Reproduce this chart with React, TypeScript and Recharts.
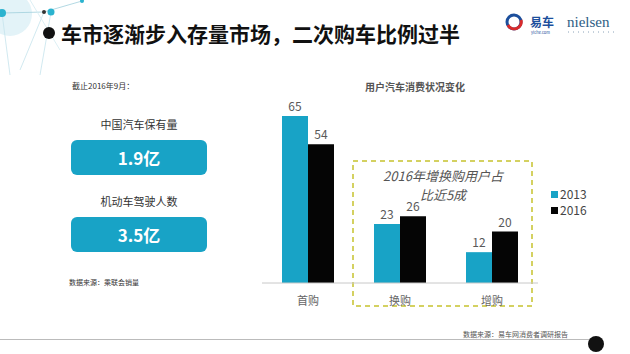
import { BarChart, Bar, XAxis, YAxis, LabelList } from "recharts";

const categories = ["首购", "换购", "增购"];
const values2013 = [65, 23, 12];
const values2016 = [54, 26, 20];
const seriesNames = ["2013", "2016"];

const chartData = categories.map((name, i) => ({
  name,
  [seriesNames[0]]: values2013[i],
  [seriesNames[1]]: values2016[i],
}));

const TEAL = "#18a3c6";
const BLACK = "#050505";
const FONT = "'Noto Sans CJK SC', 'Noto Sans', sans-serif";

function StatBox({ top, label, value }: { top: number; label: string; value: string }) {
  return (
    <>
      <div
        style={{
          position: "absolute",
          left: 71,
          width: 136,
          top: top - 24,
          textAlign: "center",
          fontSize: 11,
          color: "#333",
        }}
      >
        {label}
      </div>
      <div
        style={{
          position: "absolute",
          left: 71,
          top,
          width: 136,
          height: 35,
          borderRadius: 6,
          background: TEAL,
          color: "#fff",
          fontWeight: 700,
          fontSize: 17,
          display: "flex",
          alignItems: "center",
          justifyContent: "center",
        }}
      >
        {value}
      </div>
    </>
  );
}

function NoteLine({ top, text }: { top: number; text: string }) {
  return (
    <div
      style={{
        position: "absolute",
        left: 363,
        width: 160,
        top,
        textAlign: "center",
        fontSize: 13,
        lineHeight: "14px",
        fontStyle: "italic",
        color: "#555",
      }}
    >
      {text}
    </div>
  );
}

export default function App() {
  const legendColors = [TEAL, BLACK];
  return (
    <div
      style={{
        position: "absolute",
        left: 0,
        top: 0,
        width: 630,
        height: 354,
        background: "#fff",
        fontFamily: FONT,
        overflow: "hidden",
      }}
    >
      {/* top-left network decoration */}
      <svg width={120} height={80} style={{ position: "absolute", left: 0, top: 0 }}>
        <circle cx={10} cy={14} r={22} fill="#e3f3f8" />
        <line x1={2} y1={13} x2={44} y2={12} stroke="#9fcfdc" strokeWidth={0.8} />
        <line x1={44} y1={12} x2={82} y2={1} stroke="#9fcfdc" strokeWidth={0.8} />
        <line x1={44} y1={12} x2={20} y2={70} stroke="#c5e3ec" strokeWidth={0.8} />
        <line x1={51} y1={12} x2={40} y2={75} stroke="#c5e3ec" strokeWidth={0.8} />
        <line x1={2} y1={13} x2={10} y2={75} stroke="#c5e3ec" strokeWidth={0.8} />
        <line x1={30} y1={0} x2={60} y2={50} stroke="#d3ebf1" strokeWidth={0.8} />
        <circle cx={2} cy={13} r={4} fill="#2bb3cf" />
        <circle cx={44} cy={12} r={2} fill="#333" />
        <circle cx={51} cy={12} r={3.5} fill="#2bb3cf" />
        <circle cx={82} cy={1} r={2} fill="#2bb3cf" />
      </svg>

      {/* header */}
      <div
        style={{
          position: "absolute",
          left: 43,
          top: 27,
          width: 12,
          height: 12,
          borderRadius: 6,
          background: "#111",
        }}
      />
      <div
        style={{
          position: "absolute",
          left: 61,
          top: 19,
          fontSize: 21,
          lineHeight: "28px",
          fontWeight: 700,
          color: "#111",
          whiteSpace: "nowrap",
        }}
      >
        车市逐渐步入存量市场，二次购车比例过半
      </div>
      <svg width={120} height={40} style={{ position: "absolute", left: 504, top: 8 }}>
        <circle cx={10} cy={14} r={7} fill="none" stroke="#1c4f9c" strokeWidth={3} />
        <path d="M4 17 A7 7 0 0 0 17 12" fill="none" stroke="#d92b2b" strokeWidth={3} />
        <text x={26} y={19} fontSize={12} fontWeight={700} fill="#1c4f9c" fontFamily={FONT}>
          易车
        </text>
        <text x={27} y={26} fontSize={4} fill="#1c4f9c" fontFamily={FONT}>
          yiche.com
        </text>
        <text x={63} y={19} fontSize={15} fill="#2e5d84" fontFamily="'Liberation Serif', serif">
          nielsen
        </text>
        <line x1={64} y1={24} x2={111} y2={24} stroke="#8aa2b8" strokeWidth={1} strokeDasharray="1 4" />
      </svg>

      {/* left panel */}
      <div style={{ position: "absolute", left: 72, top: 80, fontSize: 8, color: "#333" }}>
        截止2016年9月：
      </div>
      <StatBox top={140} label="中国汽车保有量" value="1.9亿" />
      <StatBox top={217} label="机动车驾驶人数" value="3.5亿" />
      <div style={{ position: "absolute", left: 69, top: 277, fontSize: 7, color: "#333" }}>
        数据来源：乘联会销量
      </div>

      {/* chart title */}
      <div
        style={{
          position: "absolute",
          left: 330,
          width: 170,
          top: 79,
          textAlign: "center",
          fontSize: 10,
          fontWeight: 700,
          color: "#555",
        }}
      >
        用户汽车消费状况变化
      </div>

      {/* dashed highlight box */}
      <svg width={184} height={150} style={{ position: "absolute", left: 351, top: 159 }}>
        <rect
          x={2}
          y={2}
          width={179}
          height={145}
          fill="none"
          stroke="#c6c22e"
          strokeWidth={1.5}
          strokeDasharray="5 4"
        />
      </svg>
      <NoteLine top={169} text="2016年增换购用户占" />
      <NoteLine top={188} text="比近5成" />

      {/* legend */}
      <div style={{ position: "absolute", left: 551, top: 186, fontSize: 12, lineHeight: "16px", color: "#444" }}>
        {seriesNames.map((s, i) => (
          <div key={s} style={{ display: "flex", alignItems: "center" }}>
            <span
              style={{ display: "inline-block", width: 7, height: 7, background: legendColors[i], marginRight: 2 }}
            />
            {s}
          </div>
        ))}
      </div>

      <div style={{ position: "absolute", left: 250, top: 70 }}>
        <BarChart
          width={330}
          height={250}
          data={chartData}
          margin={{ top: 46, right: 42, left: 12, bottom: 0 }}
          barGap={0}
          barSize={26}
        >
          <XAxis
            dataKey="name"
            height={37}
            axisLine={{ stroke: "#c8c8c8" }}
            tickLine={false}
            tick={{ fontSize: 11, fill: "#666", fontFamily: FONT }}
            tickMargin={8}
          />
          <YAxis hide domain={[0, 65]} />
          <Bar dataKey={seriesNames[0]} fill={TEAL} isAnimationActive={false}>
            <LabelList dataKey={seriesNames[0]} position="top" fill="#595959" fontSize={12} fontFamily={FONT} />
          </Bar>
          <Bar dataKey={seriesNames[1]} fill={BLACK} isAnimationActive={false}>
            <LabelList dataKey={seriesNames[1]} position="top" fill="#595959" fontSize={12} fontFamily={FONT} />
          </Bar>
        </BarChart>
      </div>

      {/* footer */}
      <div style={{ position: "absolute", left: 463, top: 329, fontSize: 7, color: "#555" }}>
        数据来源：易车网消费者调研报告
      </div>
      <div style={{ position: "absolute", left: 0, top: 339, width: 590, height: 1, background: "#bbb" }} />
      <div
        style={{
          position: "absolute",
          left: 588,
          top: 336,
          width: 16,
          height: 16,
          borderRadius: 8,
          background: "#111",
        }}
      />
    </div>
  );
}
